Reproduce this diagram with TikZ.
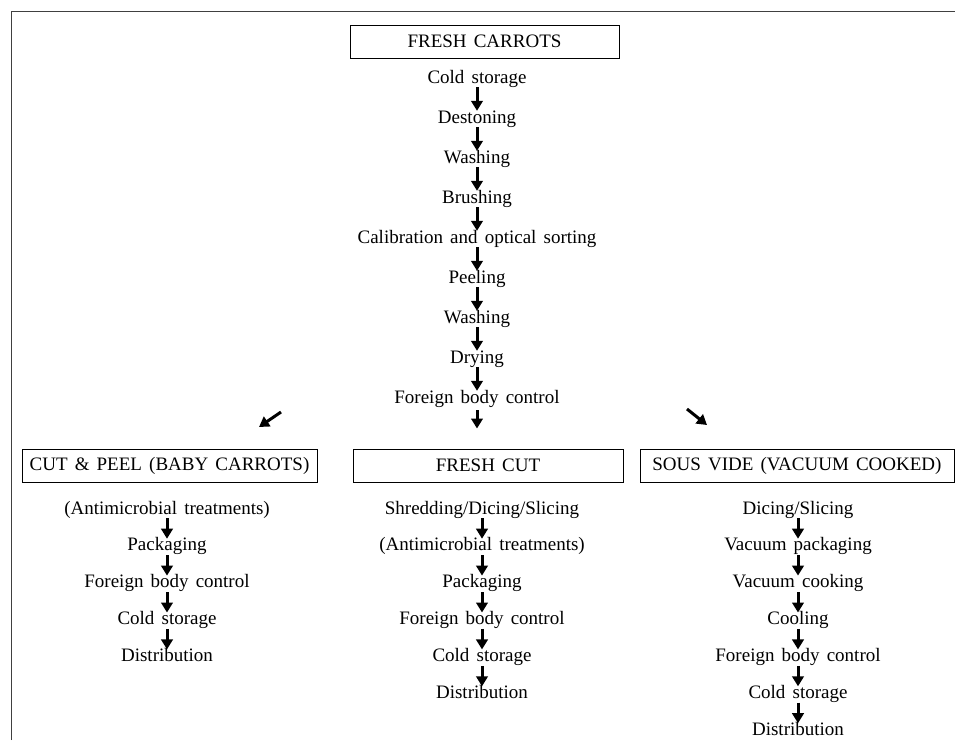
\documentclass[tikz,border=0pt]{standalone}
\usepackage{fontspec}
\setmainfont{Liberation Serif}[WordSpace=1.5]
\usetikzlibrary{arrows.meta,positioning}

\begin{document}
\begin{tikzpicture}[
			x=1pt, y=-1pt,
			node distance=23.6pt,
			arrow/.style={line width=3pt, -{Triangle[length=10pt,width=11.5pt]}},
			block/.style={draw, line width=1pt, minimum height=33pt, inner sep=0pt, font=\fontsize{19}{22}\selectfont},
			stage/.style={inner sep=0pt, text height=12pt, text depth=4pt, font=\fontsize{19}{22}\selectfont},
		]
			\useasboundingbox (0,0) rectangle (955,740);
			\draw[line width=1.5pt, black!75] (11.5,740) -- (11.5,11.5) -- (955,11.5);

			% main line
			\node[block, minimum width=269pt] (fresh carrots) at (484.5,41.5) {FRESH CARROTS};
			\node[stage] (cold storage) at (477,79) {Cold storage};
			\node[stage, below=of cold storage] (destoning) {Destoning};
			\node[stage, below=of destoning] (washing one) {Washing};
			\node[stage, below=of washing one] (brushing) {Brushing};
			\node[stage, below=of brushing] (calibration) {Calibration and optical sorting};
			\node[stage, below=of calibration] (peeling) {Peeling};
			\node[stage, below=of peeling] (washing two) {Washing};
			\node[stage, below=of washing two] (drying) {Drying};
			\node[stage, below=of drying] (body control) {Foreign body control};

			\draw[arrow] (cold storage) -- (destoning);
			\draw[arrow] (destoning) -- (washing one);
			\draw[arrow] (washing one) -- (brushing);
			\draw[arrow] (brushing) -- (calibration);
			\draw[arrow] (calibration) -- (peeling);
			\draw[arrow] (peeling) -- (washing two);
			\draw[arrow] (washing two) -- (drying);
			\draw[arrow] (drying) -- (body control);

			% product lines
			\node[block, minimum width=295pt] (cut peel) at (169.5,465.5) {CUT \& PEEL (BABY CARROTS)};
			\node[block, minimum width=270pt] (fresh cut) at (488,465.5) {FRESH CUT};
			\node[block, minimum width=314pt] (sous vide) at (797,465.5) {SOUS VIDE (VACUUM COOKED)};

			\coordinate (left tail) at (281,412);
			\coordinate (left head) at (259,427);
			\coordinate (right tail) at (687,409);
			\coordinate (right head) at (707,425);
			\draw[arrow] (left tail) -- (left head);
			\draw[arrow] (right tail) -- (right head);
			\draw[arrow, shorten <=3pt, shorten >=20pt] (body control.south) -- (body control.south |- fresh cut.north);

			\begin{scope}[node distance=20.5pt]
				% cut & peel
				\node[stage] (cp antimicrobial) at (167,510) {(Antimicrobial treatments)};
				\node[stage, below=of cp antimicrobial] (cp packaging) {Packaging};
				\node[stage, below=of cp packaging] (cp body control) {Foreign body control};
				\node[stage, below=of cp body control] (cp cold storage) {Cold storage};
				\node[stage, below=of cp cold storage] (cp distribution) {Distribution};

				\draw[arrow] (cp antimicrobial) -- (cp packaging);
				\draw[arrow] (cp packaging) -- (cp body control);
				\draw[arrow] (cp body control) -- (cp cold storage);
				\draw[arrow] (cp cold storage) -- (cp distribution);

				% fresh cut
				\node[stage] (fc shredding) at (482,510) {Shredding/Dicing/Slicing};
				\node[stage, below=of fc shredding] (fc antimicrobial) {(Antimicrobial treatments)};
				\node[stage, below=of fc antimicrobial] (fc packaging) {Packaging};
				\node[stage, below=of fc packaging] (fc body control) {Foreign body control};
				\node[stage, below=of fc body control] (fc cold storage) {Cold storage};
				\node[stage, below=of fc cold storage] (fc distribution) {Distribution};

				\draw[arrow] (fc shredding) -- (fc antimicrobial);
				\draw[arrow] (fc antimicrobial) -- (fc packaging);
				\draw[arrow] (fc packaging) -- (fc body control);
				\draw[arrow] (fc body control) -- (fc cold storage);
				\draw[arrow] (fc cold storage) -- (fc distribution);

				% sous vide
				\node[stage] (sv dicing) at (798,510) {Dicing/Slicing};
				\node[stage, below=of sv dicing] (sv packaging) {Vacuum packaging};
				\node[stage, below=of sv packaging] (sv cooking) {Vacuum cooking};
				\node[stage, below=of sv cooking] (sv cooling) {Cooling};
				\node[stage, below=of sv cooling] (sv body control) {Foreign body control};
				\node[stage, below=of sv body control] (sv cold storage) {Cold storage};
				\node[stage, below=of sv cold storage] (sv distribution) {Distribution};

				\draw[arrow] (sv dicing) -- (sv packaging);
				\draw[arrow] (sv packaging) -- (sv cooking);
				\draw[arrow] (sv cooking) -- (sv cooling);
				\draw[arrow] (sv cooling) -- (sv body control);
				\draw[arrow] (sv body control) -- (sv cold storage);
				\draw[arrow] (sv cold storage) -- (sv distribution);
			\end{scope}
		\end{tikzpicture}
\end{document}
